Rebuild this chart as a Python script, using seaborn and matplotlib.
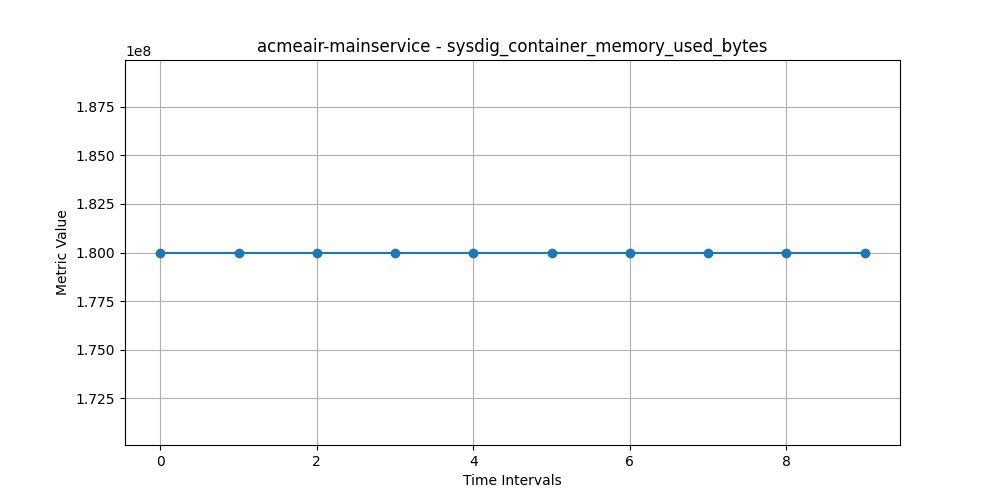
import numpy as np
import pandas as pd
import matplotlib
matplotlib.use("Agg")
import matplotlib.pyplot as plt
import seaborn as sns

intervals = list(range(10))
memory_used = [1.8e8] * 10

df = pd.DataFrame({"interval": intervals, "value": memory_used})

fig, ax = plt.subplots(figsize=(10, 5), dpi=100)
sns.lineplot(data=df, x="interval", y="value", marker="o", color="#1f77b4",
             markersize=6, markeredgecolor="#1f77b4", markeredgewidth=1,
             linewidth=1.5, ax=ax)
ax.set_title("acmeair-mainservice - sysdig_container_memory_used_bytes")
ax.set_xlabel("Time Intervals")
ax.set_ylabel("Metric Value")
ax.grid(True)
fig.savefig("out.png")
